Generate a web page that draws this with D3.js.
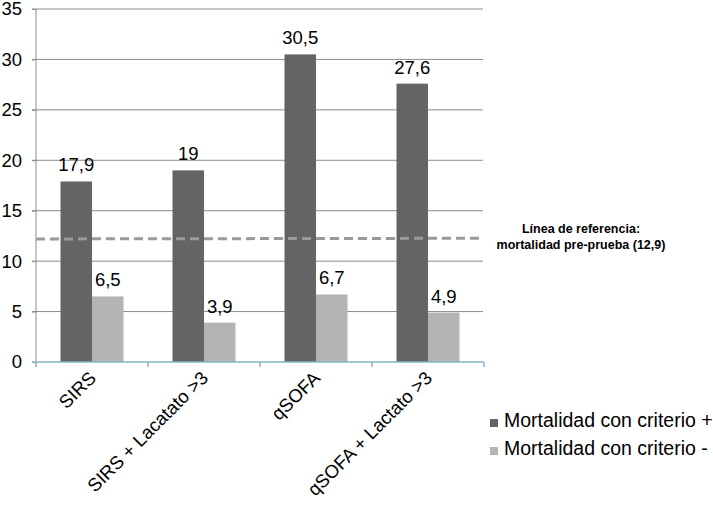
<!DOCTYPE html>
<html><head><meta charset="utf-8">
<script src="https://cdn.jsdelivr.net/npm/d3@7/dist/d3.min.js"></script>
<style>body{margin:0;background:#fff}svg{display:block;font-family:"Liberation Sans",Arial,Helvetica,sans-serif}</style>
</head><body><svg id="c" width="713" height="509"></svg>
<script>
const categories = ["SIRS", "SIRS + Lacatato >3", "qSOFA", "qSOFA + Lactato >3"];
const seriesNames = ["Mortalidad con criterio +", "Mortalidad con criterio -"];
const positiveValues = [17.9, 19, 30.5, 27.6];
const negativeValues = [6.5, 3.9, 6.7, 4.9];
const valueLabels = [["17,9","19","30,5","27,6"],["6,5","3,9","6,7","4,9"]];
const yTicks = [0,5,10,15,20,25,30,35];
const referenceValue = 12.2;
const referenceLabel = ["Línea de referencia:", "mortalidad pre-prueba (12,9)"];
const colors = ["#646464", "#b4b4b4"];

const svg = d3.select("#c");
const L = 36, R = 484, T = 9, B = 362;
const y = d3.scaleLinear().domain([0,35]).range([B,T]);
const x0 = d3.scaleBand().domain(categories).range([L,R]).paddingInner(0.4375).paddingOuter(0.21875);
const x1 = d3.scaleBand().domain([0,1]).range([0,x0.bandwidth()]);
const step = x0.step();

// gridlines
svg.append("g").selectAll("line").data(yTicks.filter(d=>d>0)).join("line")
  .attr("x1",L-4).attr("x2",R-1).attr("y1",d=>y(d)).attr("y2",d=>y(d))
  .attr("stroke","#8c8c8c").attr("stroke-width",1);
// y axis
const ya = svg.append("g").attr("transform",`translate(${L},0)`)
  .call(d3.axisLeft(y).tickValues(yTicks).tickSize(4).tickPadding(10));
ya.select(".domain").attr("stroke","#8c8c8c").attr("d",`M0,${B}V${T}`);
ya.selectAll(".tick line").attr("stroke","#8c8c8c");
ya.selectAll("text").attr("font-size",18.5).attr("fill","#000").attr("font-family","Liberation Sans, Arial, sans-serif");

// bars
const series = [positiveValues, negativeValues];
series.forEach((vals,si)=>{
  svg.append("g").selectAll("rect").data(vals).join("rect")
    .attr("x",(d,i)=>x0(categories[i])+x1(si)).attr("width",x1.bandwidth())
    .attr("y",d=>y(d)).attr("height",d=>B-y(d)).attr("fill",colors[si]);
  svg.append("g").selectAll("text").data(vals).join("text")
    .attr("x",(d,i)=>x0(categories[i])+x1(si)+x1.bandwidth()/2)
    .attr("y",d=>y(d)-10).attr("text-anchor","middle").attr("font-size",18.5).attr("fill","#000")
    .text((d,i)=>valueLabels[si][i]);
});

// x axis
const xa = svg.append("g");
xa.append("line").attr("x1",L-4).attr("x2",R).attr("y1",B).attr("y2",B).attr("stroke","#86b3c4").attr("stroke-width",1.5);
const bounds = d3.range(categories.length+1).map(i=>L+i*step);
xa.selectAll("line.t").data(bounds).join("line").attr("class","t")
  .attr("x1",d=>d).attr("x2",d=>d).attr("y1",B).attr("y2",B+5).attr("stroke","#86b3c4").attr("stroke-width",1.5);
xa.selectAll("text").data(categories).join("text")
  .attr("transform",d=>`translate(${x0(d)+x0.bandwidth()/2-4},${B+8}) rotate(-45)`)
  .attr("text-anchor","end").attr("dy","0.7em").attr("font-size",18.5).attr("fill","#000").text(d=>d);

// reference line
svg.append("line").attr("x1",L).attr("x2",R-1).attr("y1",y(referenceValue)).attr("y2",y(referenceValue)-0.7)
  .attr("stroke","#9a9a9a").attr("stroke-width",3).attr("stroke-dasharray","9,5");
svg.append("g").selectAll("text").data(referenceLabel).join("text")
  .attr("x",581).attr("y",(d,i)=>233+i*16).attr("text-anchor","middle")
  .attr("font-size",12.5).attr("font-weight","bold").attr("fill","#000").text(d=>d);

// legend
const lg = svg.append("g").selectAll("g").data(seriesNames).join("g")
  .attr("transform",(d,i)=>`translate(490,${423+i*28})`);
lg.append("rect").attr("x",0).attr("y",-4).attr("width",8).attr("height",8).attr("fill",(d,i)=>colors[i]);
lg.append("text").attr("x",14).attr("y",4).attr("font-size",19.5).attr("fill","#000").text(d=>d);
</script></body></html>
